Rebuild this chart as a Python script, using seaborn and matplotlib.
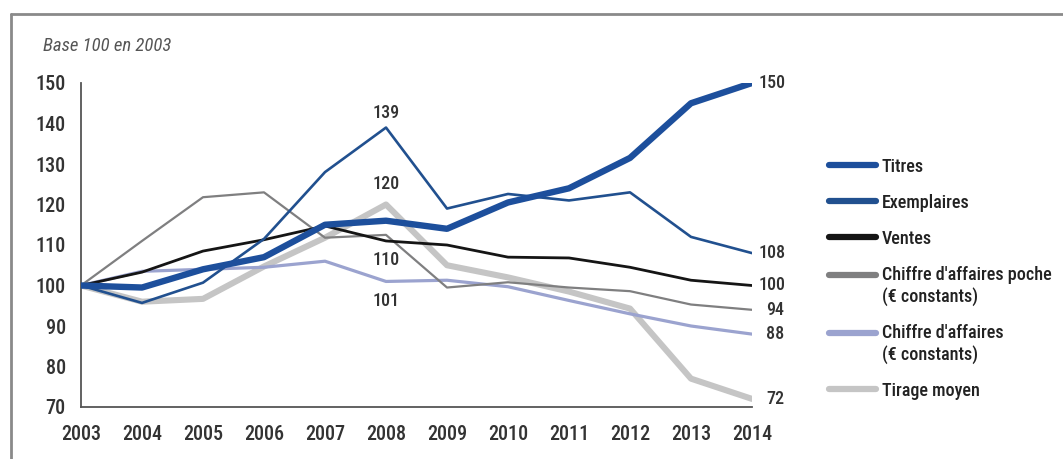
import seaborn as sns
import matplotlib.pyplot as plt
import pandas as pd

years = list(range(2003, 2015))

titres = [100, 99.5, 104, 107, 115, 116, 114, 120.5, 124, 131.5, 145, 150]
exemplaires = [100, 95.7, 100.7, 111.5, 128, 139, 119, 122.6, 121, 123, 112, 108]
ventes = [100, 103.3, 108.5, 111.3, 114.7, 111, 110, 107, 106.8, 104.5, 101.3, 100]
ca_poche = [100, 111, 121.8, 123, 111.8, 112.5, 99.5, 100.8, 99.5, 98.6, 95.3, 94]
ca = [100, 103.5, 104, 104.5, 106, 101, 101.3, 99.7, 96.3, 93, 90, 88]
tirage = [100, 96, 96.7, 104.7, 111.8, 120, 105, 102, 98.5, 94.3, 77, 72]

series_names = ["Titres", "Exemplaires", "Ventes",
                "Chiffre d'affaires poche\n(€ constants)",
                "Chiffre d'affaires\n(€ constants)", "Tirage moyen"]
series_values = [titres, exemplaires, ventes, ca_poche, ca, tirage]

colors = ["#1d4f9c", "#21508f", "#151515", "#7f7f80", "#9ba3cf", "#c5c5c5"]
widths = [4.6, 1.9, 2.0, 1.6, 2.3, 4.4]
# drawing order: background lines first
zorders = [6, 5, 4, 3, 2, 1]

rows = []
for name, vals in zip(series_names, series_values):
    for y, v in zip(years, vals):
        rows.append({"annee": y, "valeur": v, "serie": name})
df = pd.DataFrame(rows)

sns.set_style("white")
plt.rcParams['font.family'] = ['Roboto Condensed', 'Liberation Sans Narrow', 'Roboto', 'DejaVu Sans']

fig = plt.figure(figsize=(10.63, 4.59), dpi=100)
ax = fig.add_axes([81 / 1063, 1 - 407 / 459, (752 - 81) / 1063, (407 - 83) / 459])

for name, c, w, z in zip(series_names, colors, widths, zorders):
    sns.lineplot(data=df[df.serie == name], x="annee", y="valeur", color=c,
                 linewidth=w, ax=ax, label=name, zorder=z)

ax.set_xlim(2003, 2014)
ax.set_ylim(70, 150)
ax.set_xticks(years)
ax.set_yticks(range(70, 151, 10))
ax.set_xlabel("")
ax.set_ylabel("")
for s in ["top", "right"]:
    ax.spines[s].set_visible(False)
for s in ["left", "bottom"]:
    ax.spines[s].set_color("#555555")
    ax.spines[s].set_linewidth(1.3)
ax.tick_params(axis="both", direction="out", length=8, width=1.3, color="#555555",
               labelsize=14.5, labelcolor="#333333", pad=3)
ax.tick_params(axis="x", pad=5)
for lab in ax.get_xticklabels() + ax.get_yticklabels():
    lab.set_fontweight("medium")

# value labels
txt = dict(fontsize=13, color="#333333", fontweight="medium")
ax.text(2008, 142.5, "139", ha="center", va="center", **txt)
ax.text(2008, 125, "120", ha="center", va="center", **txt)
ax.text(2008, 106.2, "110", ha="center", va="center", **txt)
ax.text(2008, 96.2, "101", ha="center", va="center", **txt)
ends = [(150, "150", 0.1), (108, "108", 0.1), (100, "100", 0.1),
        (94, "94", 0.23), (88, "88", 0.23), (72, "72", 0.23)]
for v, s, dx in ends:
    ax.text(2014 + dx, v, s, ha="left", va="center", clip_on=False, **txt)

fig.text(43 / 1063, 1 - 46 / 459, "Base 100 en 2003", fontsize=13.5, style="italic",
         color="#555555", ha="left", va="center")

leg = ax.legend(loc="upper left", bbox_to_anchor=(1.09, 0.82), frameon=False,
                fontsize=13, handlelength=2.6, labelspacing=1.0, handletextpad=0.35)
for t in leg.get_texts():
    t.set_color("#222222")
    t.set_fontweight("medium")
for h, t in zip(leg.get_lines(), leg.get_texts()):
    h.set_linewidth(4.5)
    # two-line labels: put the key in front of the first line
    if "\n" in t.get_text():
        h.set_ydata([y + 8 for y in h.get_ydata()])

# outer frame
fig.add_artist(plt.Line2D([11 / 1063, 1], [1 - 14 / 459, 1 - 14 / 459],
                          transform=fig.transFigure, color="#8a8a8a", lw=2))
fig.add_artist(plt.Line2D([11 / 1063, 11 / 1063], [0, 1 - 14 / 459],
                          transform=fig.transFigure, color="#8a8a8a", lw=2))

fig.savefig("out.png", dpi=100)
